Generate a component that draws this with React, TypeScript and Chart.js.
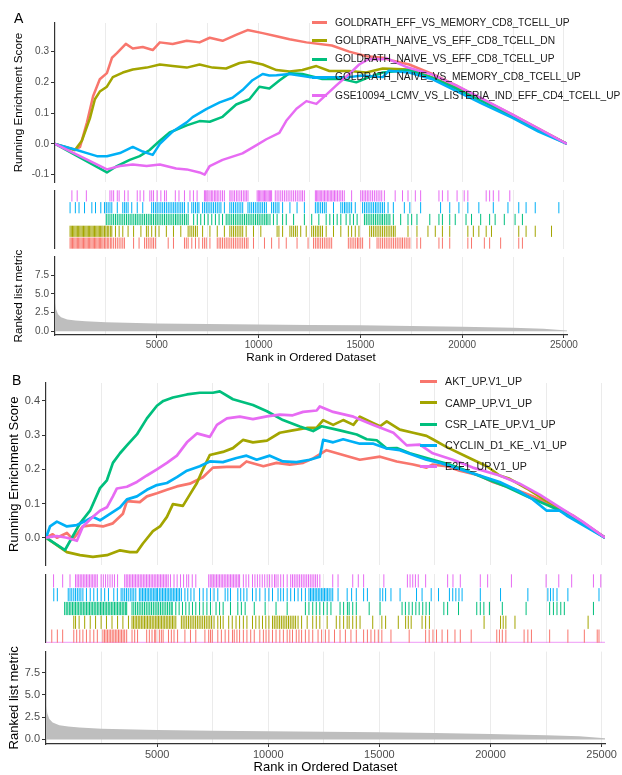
import React, { useEffect, useRef } from "react";
import { Chart, registerables } from "chart.js";

Chart.register(...registerables);

const FONT = "'Liberation Sans', Arial, Helvetica, sans-serif";

// ---------------- data ----------------
const N_GENES = 25150;
const X_GRID = [2500, 5000, 7500, 10000, 12500, 15000, 17500, 20000, 22500, 25000];
const X_LABEL_STEP = 5000;
const COLORS = ["#F8766D", "#A3A500", "#00BF7D", "#00B0F6", "#E76BF3"];

const NAMES_A = [
  "GOLDRATH_EFF_VS_MEMORY_CD8_TCELL_UP",
  "GOLDRATH_NAIVE_VS_EFF_CD8_TCELL_DN",
  "GOLDRATH_NAIVE_VS_EFF_CD8_TCELL_UP",
  "GOLDRATH_NAIVE_VS_MEMORY_CD8_TCELL_UP",
  "GSE10094_LCMV_VS_LISTERIA_IND_EFF_CD4_TCELL_UP",
];
const NAMES_B = ["AKT_UP.V1_UP", "CAMP_UP.V1_UP", "CSR_LATE_UP.V1_UP", "CYCLIN_D1_KE_.V1_UP", "E2F1_UP.V1_UP"];

const ES_TICKS_A = [-0.1, 0, 0.1, 0.2, 0.3];
const ES_TICKS_B = [0, 0.1, 0.2, 0.3, 0.4];
const RANK_TICKS = [0, 2.5, 5, 7.5];

// ranked list metric (rank, value)
const RANK_X = [0, 60, 150, 300, 600, 1000, 1500, 2500, 5000, 7500, 10000, 12500, 15000, 17500, 20000, 22500, 24000, 25150];
const RANK_V = [3.8, 2.9, 2.3, 1.9, 1.6, 1.45, 1.35, 1.2, 1.05, 0.98, 0.92, 0.86, 0.8, 0.72, 0.62, 0.48, 0.36, 0.12];

// running enrichment score, panel A: [rank, ES]
const ES_A_EFF_MEM = [[0,0],[980,-0.02],[1230,-0.01],[1570,0.07],[1870,0.155],[2200,0.21],[2550,0.23],[2800,0.28],[3040,0.295],[3480,0.325],[3820,0.31],[4310,0.315],[4800,0.305],[5150,0.33],[5780,0.325],[6470,0.335],[7100,0.33],[7600,0.345],[8230,0.335],[8920,0.355],[9460,0.37],[10200,0.36],[10880,0.35],[11520,0.34],[12350,0.33],[13600,0.32],[14450,0.3],[15300,0.285],[16100,0.28],[16600,0.27],[17400,0.258],[18500,0.228],[19700,0.19],[21000,0.145],[22450,0.096],[23750,0.05],[25150,0]];
const ES_A_NAIVE_EFF_DN = [[0,0],[980,-0.02],[1320,0.01],[1715,0.083],[1960,0.145],[2200,0.17],[2550,0.186],[2840,0.217],[3330,0.232],[3820,0.242],[4500,0.248],[5150,0.258],[5780,0.253],[6470,0.248],[7100,0.258],[7740,0.248],[8400,0.245],[9070,0.263],[9550,0.268],[10200,0.258],[10880,0.24],[11520,0.235],[12150,0.24],[12840,0.253],[13480,0.237],[14450,0.237],[15290,0.232],[16100,0.245],[17400,0.242],[18500,0.217],[19700,0.183],[21000,0.14],[22450,0.092],[23750,0.047],[25150,0]];
const ES_A_NAIVE_EFF_UP = [[0,0],[2550,-0.093],[3040,-0.072],[3670,-0.052],[4160,-0.04],[4650,-0.02],[5150,0.01],[5630,0.037],[6470,0.06],[7100,0.074],[7600,0.072],[8230,0.088],[8900,0.128],[9550,0.145],[10040,0.186],[10530,0.18],[11020,0.206],[11520,0.23],[12150,0.227],[13130,0.211],[14110,0.211],[14800,0.2],[15430,0.217],[16100,0.232],[17400,0.24],[18500,0.215],[19700,0.18],[21000,0.138],[22450,0.09],[23750,0.045],[25150,0]];
const ES_A_NAIVE_MEM = [[0,0],[1070,-0.02],[1570,-0.03],[2060,-0.04],[2550,-0.04],[3190,-0.03],[3820,-0.01],[4310,-0.025],[4800,-0.036],[5150,0],[5780,0.04],[6470,0.07],[6760,0.087],[7450,0.114],[8090,0.135],[8720,0.15],[9210,0.175],[9700,0.207],[10200,0.227],[10530,0.222],[10880,0.223],[11520,0.227],[12500,0.217],[13480,0.217],[14450,0.217],[15100,0.222],[16100,0.217],[16400,0.238],[17400,0.232],[18500,0.211],[19700,0.172],[21000,0.13],[22450,0.085],[23750,0.04],[25150,0]];
const ES_A_GSE10094 = [[0,0],[2550,-0.083],[3190,-0.072],[3820,-0.067],[4500,-0.072],[5150,-0.067],[5950,-0.08],[6470,-0.083],[7100,-0.093],[7350,-0.1],[7600,-0.072],[8230,-0.052],[9210,-0.031],[9880,-0.005],[10380,0.015],[11020,0.036],[11360,0.075],[11860,0.114],[12350,0.139],[12840,0.13],[13330,0.16],[13820,0.19],[14450,0.227],[14940,0.258],[15430,0.276],[16100,0.275],[16270,0.279],[17250,0.25],[18500,0.226],[19700,0.19],[21000,0.146],[22450,0.096],[23750,0.05],[25150,0]];

// running enrichment score, panel B
const ES_B_AKT = [[0,0],[300,0.01],[490,0],[940,0.014],[1210,-0.005],[1660,0.033],[2110,0.037],[2560,0.033],[3010,0.042],[3460,0.07],[3640,0.107],[4220,0.104],[4540,0.121],[4990,0.13],[5440,0.14],[5890,0.15],[6470,0.158],[7060,0.177],[7510,0.205],[8140,0.207],[8720,0.207],[9020,0.223],[9780,0.209],[10370,0.219],[10970,0.214],[11570,0.219],[12020,0.232],[12620,0.256],[13370,0.242],[14120,0.228],[15030,0.237],[15780,0.223],[16520,0.214],[17120,0.205],[17400,0.214],[18030,0.209],[18610,0.196],[19510,0.182],[20100,0.163],[21000,0.144],[21900,0.121],[22800,0.093],[23700,0.065],[25150,0]];
const ES_B_CAMP = [[0,0],[940,-0.042],[1530,-0.051],[2110,-0.056],[2740,-0.051],[3330,-0.037],[3780,-0.042],[4090,-0.042],[4360,-0.017],[4810,0.019],[5130,0.033],[5440,0.061],[5710,0.098],[6160,0.093],[6470,0.126],[6790,0.16],[7060,0.2],[7370,0.242],[7960,0.251],[8410,0.262],[8860,0.286],[9310,0.279],[9940,0.284],[10520,0.307],[11100,0.314],[11730,0.321],[12180,0.322],[12470,0.344],[12920,0.33],[13370,0.344],[13830,0.33],[14120,0.354],[14730,0.335],[15030,0.326],[15330,0.34],[15920,0.316],[16520,0.307],[17120,0.298],[17400,0.288],[18030,0.265],[18930,0.237],[19830,0.209],[20410,0.182],[20860,0.172],[21630,0.144],[22530,0.107],[23420,0.075],[25150,0]];
const ES_B_CSR_LATE = [[0,0],[855,-0.036],[1530,0.042],[1980,0.079],[2430,0.145],[2740,0.168],[3010,0.219],[3330,0.247],[3640,0.27],[4090,0.302],[4540,0.349],[4990,0.386],[5280,0.4],[5710,0.41],[6340,0.419],[6920,0.424],[7510,0.424],[7820,0.428],[8410,0.405],[9310,0.388],[9940,0.37],[10660,0.344],[11420,0.325],[12020,0.312],[12400,0.326],[13220,0.314],[13980,0.302],[14430,0.288],[14880,0.285],[15330,0.261],[15780,0.262],[16370,0.247],[17400,0.228],[18160,0.214],[18930,0.196],[19830,0.172],[20720,0.149],[21630,0.121],[22660,0.093],[23420,0.07],[25150,0]];
const ES_B_CYCLIN_D1 = [[0,0],[180,0.033],[490,0.047],[940,0.033],[1390,0.037],[1840,0.051],[2110,0.061],[2430,0.051],[2880,0.07],[3330,0.089],[3640,0.112],[4090,0.121],[4540,0.14],[4990,0.154],[5440,0.16],[5890,0.177],[6340,0.196],[6920,0.209],[7370,0.223],[7960,0.221],[8570,0.233],[9020,0.24],[9480,0.228],[10070,0.24],[10660,0.223],[11270,0.221],[11870,0.228],[12320,0.237],[12470,0.286],[12920,0.279],[13370,0.288],[14120,0.275],[14730,0.275],[15330,0.261],[15920,0.256],[16520,0.242],[17120,0.228],[17710,0.219],[18610,0.2],[19510,0.182],[20410,0.163],[21310,0.135],[21900,0.112],[22530,0.079],[23110,0.079],[23420,0.065],[25150,0]];
const ES_B_E2F1 = [[0,0],[490,0.005],[940,0],[1390,-0.009],[1660,0.033],[2110,0.061],[2430,0.079],[2740,0.089],[3010,0.121],[3190,0.144],[3640,0.149],[4090,0.163],[4540,0.182],[4990,0.2],[5440,0.219],[5890,0.24],[6340,0.279],[6790,0.305],[7370,0.295],[7690,0.33],[8140,0.349],[8720,0.354],[9310,0.347],[9940,0.355],[10520,0.36],[11100,0.358],[11570,0.368],[12180,0.372],[12320,0.384],[12920,0.368],[13830,0.354],[14730,0.33],[15630,0.307],[16230,0.27],[16820,0.272],[17400,0.247],[18300,0.228],[19200,0.205],[20410,0.182],[21310,0.158],[22210,0.126],[23110,0.089],[24140,0.047],[25150,0]];

// gene-set hit positions (rank), panel A
const RUG_A_EFF_MEM = [740,800,860,920,980,1040,1100,1160,1220,1280,1340,1400,1460,1520,1580,1640,1700,1760,1820,1880,1940,2000,2060,2120,2180,2240,2300,2360,2430,2500,2570,2640,2720,2790,2880,2970,3060,3150,3240,3330,3410,3860,4130,4400,4490,4580,4670,4760,4840,4930,5560,5820,6360,6450,6540,6720,6900,7070,7250,7340,7430,7610,7970,8060,8140,8230,8320,8410,8500,8590,8680,8770,8860,8950,9040,9130,9220,9310,9400,9480,9750,10290,10640,11000,11360,11890,12430,12700,12790,12880,12960,13050,13140,13230,13320,13410,13500,13590,14410,14500,14590,14680,14770,14860,14930,15020,15110,15460,15820,15910,16000,16090,16180,16270,16360,16450,16540,16630,16720,16810,16900,16990,17070,17160,17250,17340,17430,17780,17960,18860,19030,19390,20280,20460,21090,21350,21890,22780,22960];
const RUG_A_NAIVE_EFF_DN = [740,800,860,920,980,1040,1100,1160,1220,1280,1340,1400,1460,1520,1580,1640,1700,1760,1820,1880,1940,2000,2060,2120,2180,2240,2300,2360,2430,2500,2570,2640,2720,2790,2970,3150,3330,3590,3860,4220,4490,4580,4750,4930,5110,5470,5820,6180,6540,6630,6720,6810,6900,6990,7250,7610,7970,8320,8590,8680,8770,8860,8950,9040,9130,9220,9390,9750,10110,10910,11000,11180,11540,11630,11720,11810,11900,12070,12340,12610,12700,12790,12880,12960,13050,13140,13320,13680,14040,14410,14570,14750,14930,15460,15550,15640,15730,15820,15910,16000,16090,16180,16270,16360,16450,16540,16630,16710,17340,17780,18320,18680,19030,19390,20280,20550,20820,21180,21440,22780,23140,23590,24390];
const RUG_A_NAIVE_EFF_UP = [2520,2610,2700,2790,2880,2970,3060,3150,3240,3330,3420,3510,3600,3690,3780,3870,3960,4040,4130,4220,4310,4400,4490,4580,4670,4750,4840,4930,5020,5110,5200,5290,5380,5470,5560,5650,5740,5830,5920,6000,6090,6180,6270,6360,6450,6540,6810,6990,7160,7340,7520,7700,7880,8060,8230,8410,8500,8590,8680,8770,8860,8950,9040,9130,9220,9310,9400,9490,9580,9670,9760,9850,9940,10030,10120,10210,10300,10380,10460,10560,10730,10910,11180,11360,11720,12250,12610,12960,13320,13500,13680,13860,14040,14300,14490,14660,14840,15200,15290,15380,15470,15560,15650,15740,15830,15920,16010,16090,16180,16270,16360,16450,16620,16980,17340,17520,17780,18410,18860,19030,19390,19660,20190,20460,20910,21350,21620,22070,22600,22960];
const RUG_A_NAIVE_MEM = [740,1000,1180,1450,1810,1990,2250,2430,2520,2610,2700,2790,3060,3330,3420,3500,3590,3770,4040,4310,4750,4840,4930,5020,5110,5200,5290,5380,5470,5560,5650,5740,5830,5910,6000,6090,6180,6270,6360,6540,6720,6810,6900,6990,7070,7250,7340,7430,7520,7610,7700,7790,7880,7970,8060,8150,8320,8590,8680,8770,8860,8950,9040,9130,9220,9480,9570,9660,9750,9840,9930,10020,10110,10200,10290,10380,10640,10730,10820,10910,11000,11180,11540,11890,12250,12790,12880,12960,13050,13140,13230,13320,13680,14040,14130,14220,14300,14390,14480,14570,14750,15110,15200,15290,15380,15470,15560,15650,15740,15820,15910,16000,16090,16180,16360,16620,17160,17430,17960,18940,19390,19840,20280,20820,21530,22250,22780,23140,23590,24750];
const RUG_A_GSE10094 = [830,1090,1540,2700,2790,2880,3060,3150,3420,3590,4040,4180,4360,4660,4750,4840,5020,5200,5380,5470,5910,6090,6360,6630,6800,6980,7340,7400,7460,7520,7610,7680,7750,7830,7900,7970,8050,8140,8230,8320,8590,8650,8740,8820,8910,8990,9080,9160,9250,9330,9400,9480,9930,9990,10050,10110,10170,10230,10290,10350,10410,10470,10530,10590,10640,10820,10910,11000,11090,11180,11270,11360,11450,11540,11630,11720,11810,11900,11990,12080,12160,12250,12790,12850,12910,12970,13030,13100,13170,13240,13310,13380,13450,13520,13590,13660,13730,13800,13880,13960,14040,14120,14210,14570,15020,15100,15180,15260,15340,15420,15510,15600,15690,15780,15870,15960,16050,16180,16710,17070,17340,17700,17960,18860,19030,19300,19750,20100,20280,21180,21350,21530,21800,22340];

// gene-set hit positions (rank), panel B
const RUG_B_AKT = [260,510,750,1250,1380,1520,1660,1820,1980,2150,2310,2560,2630,2700,2770,2840,2910,2980,3050,3120,3190,3260,3330,3400,3470,3540,3630,3870,3990,4120,4530,4650,4770,4890,4940,5100,5190,5270,5510,5640,5760,5920,6250,6500,6740,7150,7320,7400,7480,7730,7890,8060,8220,8390,8470,8590,8710,8880,9040,9210,9370,9620,9780,9900,10030,10190,10350,10520,10680,10850,10970,11090,11260,11380,11500,11670,11830,12000,12240,12400,12570,12730,12980,13230,13470,13720,13960,14290,14460,14620,14790,14950,15110,15520,16340,17080,17240,17410,17570,17820,18070,18400,18640,19130,20280,20400,20530,20690,21510,21680,21840,22660,23480,24220,24800,24880];
const RUG_B_CAMP = [1250,1330,1490,1740,1990,2230,2480,2720,2970,3220,3460,3710,3870,3940,4010,4080,4150,4220,4290,4360,4430,4500,4570,4640,4710,4780,4850,4920,4990,5060,5130,5200,5270,5340,5410,5480,5550,5620,5690,5760,5840,6090,6170,6250,6330,6410,6490,6570,6650,6730,6810,6890,6970,7050,7130,7210,7290,7370,7450,7560,7730,7850,7970,8220,8380,8550,8710,8880,9040,9290,9440,9590,9740,9890,10030,10190,10270,10350,10430,10510,10590,10670,10750,10830,10910,10990,11070,11150,11230,11340,11500,11750,12000,12160,12320,12650,13060,13220,13390,13550,13640,13800,13960,14130,14700,15110,15280,15850,16180,16300,16430,16920,17080,17250,19710,20450,20570,20690,21100,24390];
const RUG_B_CSR_LATE = [840,910,980,1050,1120,1190,1260,1330,1400,1470,1540,1610,1680,1750,1820,1890,1960,2030,2100,2170,2240,2310,2380,2450,2520,2590,2660,2730,2800,2870,2940,3010,3080,3150,3220,3290,3360,3430,3500,3570,3630,3870,3950,4030,4110,4190,4270,4350,4430,4510,4590,4670,4750,4830,4910,4990,5070,5150,5230,5310,5390,5470,5550,5630,5680,5840,5990,6140,6290,6440,6590,6740,6910,7070,7240,7400,7650,7810,7970,8300,8630,8790,8960,9370,9860,10350,10850,11670,11830,12000,12160,12320,12490,12650,12820,13230,13390,13560,13640,13800,13960,14540,15030,16020,16170,16330,16480,16640,16790,16950,17100,17250,17900,18070,18560,19380,19540,19700,19950,20530,21600,22660,22830,22990,23160,23320,24630];
const RUG_B_CYCLIN_D1 = [350,510,1000,1080,1160,1250,1330,1410,1490,1570,1660,1820,1990,2150,2310,2480,2640,2810,3050,3210,3380,3460,3540,3620,3700,3790,3870,3950,4040,4200,4270,4340,4410,4480,4550,4620,4690,4760,4830,4900,4960,5020,5100,5170,5240,5310,5380,5450,5520,5590,5660,5730,5800,5870,5940,6010,6090,6250,6380,6520,6660,6910,7070,7240,7400,7560,7730,8060,8180,8300,8630,8760,8900,9040,9290,9450,9620,9860,10030,10190,10440,10560,10680,10850,11010,11180,11340,11500,11670,11830,11900,11970,12040,12110,12180,12250,12320,12390,12460,12530,12600,12670,12740,12820,12900,13140,13550,13750,13960,14290,14460,15030,15150,15280,15520,15930,16670,16920,17330,17660,18150,18300,18440,18580,18720,19540,20450,21680,22580,22700,22820,22990,23480,24880];
const RUG_B_E2F1 = [340,750,1080,1330,1400,1470,1540,1610,1680,1750,1820,1890,1960,2030,2100,2170,2240,2310,2480,2580,2680,2780,2880,2980,3080,3220,3540,3610,3680,3750,3820,3890,3960,4030,4100,4170,4240,4310,4380,4450,4520,4590,4660,4730,4800,4870,4940,5010,5080,5150,5220,5290,5360,5430,5500,5600,5760,5900,6050,6190,6330,6420,6580,6740,7320,7390,7460,7530,7600,7670,7740,7810,7880,7950,8020,8090,8160,8230,8300,8370,8440,8510,8580,8650,8710,8880,9000,9120,9290,9400,9510,9620,9730,9840,9950,10060,10170,10280,10350,10440,10560,10680,10850,11010,11090,11170,11250,11330,11410,11490,11570,11650,11730,11810,11890,11970,12050,12130,12210,12320,12900,13140,13800,14050,14290,15200,16260,16380,16500,16620,16750,17080,18070,18310,18640,19540,19870,20940,22500,23070,23650,24630,24960];

const ES_A = [ES_A_EFF_MEM, ES_A_NAIVE_EFF_DN, ES_A_NAIVE_EFF_UP, ES_A_NAIVE_MEM, ES_A_GSE10094];
const ES_B = [ES_B_AKT, ES_B_CAMP, ES_B_CSR_LATE, ES_B_CYCLIN_D1, ES_B_E2F1];
const RUG_A = [RUG_A_EFF_MEM, RUG_A_NAIVE_EFF_DN, RUG_A_NAIVE_EFF_UP, RUG_A_NAIVE_MEM, RUG_A_GSE10094];
const RUG_B = [RUG_B_AKT, RUG_B_CAMP, RUG_B_CSR_LATE, RUG_B_CYCLIN_D1, RUG_B_E2F1];

// ---------------- layout ----------------
type Layout = {
  label: string; labelX: number; labelY: number;
  left: number; right: number;
  esTop: number; esBottom: number; rugBottom: number; rankBottom: number; canvasBottom: number;
  esMin: number; esMax: number; esTicks: number[]; rankMin: number; rankMax: number;
  tickFont: number; titleFont: number; titlePad: number; lineWidth: number; rugRadius: number;
  names: string[]; es: number[][][]; rugs: number[][]; rugBaseline: boolean;
  legX1: number; legX2: number; legText: number; legY0: number; legDy: number; legFont: number;
};

const LAYOUT_A: Layout = {
  label: "A", labelX: 14, labelY: 11,
  left: 55, right: 567,
  esTop: 23, esBottom: 190, rugBottom: 249, rankBottom: 335, canvasBottom: 365,
  esMin: -0.124, esMax: 0.393, esTicks: ES_TICKS_A, rankMin: -0.484, rankMax: 9.92,
  tickFont: 10, titleFont: 11.7, titlePad: 12, lineWidth: 2.5, rugRadius: 5.6,
  names: NAMES_A, es: ES_A, rugs: RUG_A, rugBaseline: false,
  legX1: 312, legX2: 327, legText: 335, legY0: 22.7, legDy: 18.25, legFont: 10.2,
};
const LAYOUT_B: Layout = {
  label: "B", labelX: 12, labelY: 373,
  left: 46, right: 605,
  esTop: 383, esBottom: 574, rugBottom: 643, rankBottom: 744, canvasBottom: 775,
  esMin: -0.081, esMax: 0.4525, esTicks: ES_TICKS_B, rankMin: -0.514, rankMax: 9.86,
  tickFont: 11, titleFont: 13, titlePad: 7, lineWidth: 2.7, rugRadius: 6.6,
  names: NAMES_B, es: ES_B, rugs: RUG_B, rugBaseline: true,
  legX1: 420, legX2: 437, legText: 445, legY0: 381.7, legDy: 21.2, legFont: 10.7,
};

const W = 622;

function xScale(L: Layout, withAxis: boolean): any {
  return {
    type: "linear",
    min: 0,
    max: N_GENES,
    afterBuildTicks: (s: any) => { s.ticks = X_GRID.map((v) => ({ value: v })); },
    grid: {
      color: "#EBEBEB",
      lineWidth: 1,
      drawTicks: withAxis,
      tickLength: 3,
      tickWidth: 1,
      tickColor: (c: any) => (c.tick && c.tick.value % X_LABEL_STEP === 0 ? "#333333" : "rgba(0,0,0,0)"),
    },
    border: { display: withAxis, color: "#333333", width: 1.2 },
    ticks: {
      display: withAxis,
      autoSkip: false,
      maxRotation: 0,
      color: "#4D4D4D",
      padding: 1,
      font: { family: FONT, size: L.tickFont },
      callback: (v: any) => (Number(v) % X_LABEL_STEP === 0 ? String(v) : ""),
    },
    title: {
      display: withAxis,
      text: "Rank in Ordered Dataset",
      color: "#000000",
      font: { family: FONT, size: L.titleFont },
      padding: { top: 0, bottom: 0 },
    },
    afterFit: (s: any) => { s.height = withAxis ? L.canvasBottom - L.rankBottom : 0; },
  };
}

function yScale(L: Layout, min: number, max: number, ticks: number[] | null, title: string | null): any {
  return {
    type: "linear",
    min,
    max,
    afterBuildTicks: (s: any) => { if (ticks) s.ticks = ticks.map((v) => ({ value: v })); },
    grid: { display: !!ticks, drawOnChartArea: false, drawTicks: true, tickLength: 4, tickWidth: 1, tickColor: "#333333" },
    border: { display: true, color: "#333333", width: 1.2 },
    ticks: {
      display: !!ticks,
      color: "#4D4D4D",
      padding: 2,
      font: { family: FONT, size: L.tickFont },
      callback: (v: any) => Number(v).toFixed(1),
    },
    title: {
      display: !!title,
      text: title || "",
      color: "#000000",
      font: { family: FONT, size: L.titleFont },
      padding: { top: L.titlePad, bottom: 0 },
    },
    afterFit: (s: any) => { s.width = L.left; },
  };
}

function baseOptions(L: Layout, padTop: number): any {
  return {
    responsive: false,
    animation: false,
    devicePixelRatio: 1,
    events: [],
    layout: { autoPadding: false, padding: { top: padTop, right: W - L.right, bottom: 0, left: 0 } },
    plugins: { legend: { display: false }, tooltip: { enabled: false }, title: { display: false } },
  };
}

function esConfig(L: Layout): any {
  return {
    type: "line",
    data: {
      datasets: L.es.map((pts, i) => ({
        label: L.names[i],
        data: pts.map(([x, y]) => ({ x, y })),
        borderColor: COLORS[i],
        borderWidth: L.lineWidth,
        borderJoinStyle: "round",
        pointRadius: 0,
        fill: false,
        tension: 0,
        order: -i,
      })),
    },
    options: {
      ...baseOptions(L, 10),
      scales: { x: xScale(L, false), y: yScale(L, L.esMin, L.esMax, L.esTicks, "Running Enrichment Score") },
    },
  };
}

function rugConfig(L: Layout): any {
  const rows = [0.5, 1.5, 2.5, 3.5, 4.5];
  const datasets: any[] = L.rugs.map((hits, i) => ({
    label: L.names[i],
    data: hits.map((x) => ({ x, y: rows[i] })),
    showLine: false,
    pointStyle: "line",
    pointRotation: 90,
    pointRadius: L.rugRadius,
    pointBorderWidth: 1,
    pointBorderColor: COLORS[i],
    pointBackgroundColor: COLORS[i],
    borderColor: COLORS[i],
  }));
  if (L.rugBaseline) {
    datasets.push({
      label: "baseline",
      data: [{ x: 0, y: 0.05 }, { x: N_GENES, y: 0.05 }],
      showLine: true,
      borderColor: "rgba(231,107,243,0.55)",
      borderWidth: 1.2,
      pointRadius: 0,
    });
  }
  return {
    type: "scatter",
    data: { datasets },
    options: {
      ...baseOptions(L, 0),
      scales: { x: xScale(L, false), y: yScale(L, 0, 5, null, null) },
    },
  };
}

function rankConfig(L: Layout): any {
  return {
    type: "line",
    data: {
      datasets: [
        {
          label: "metric",
          data: RANK_X.map((x, i) => ({ x, y: RANK_V[i] })),
          borderWidth: 0,
          borderColor: "#BEBEBE",
          backgroundColor: "#BEBEBE",
          pointRadius: 0,
          fill: "origin",
          tension: 0,
        },
      ],
    },
    options: {
      ...baseOptions(L, 0),
      scales: { x: xScale(L, true), y: yScale(L, L.rankMin, L.rankMax, RANK_TICKS, "Ranked list metric") },
    },
  };
}

function ChartCanvas({ top, height, make }: { top: number; height: number; make: () => any }) {
  const ref = useRef<HTMLCanvasElement | null>(null);
  useEffect(() => {
    if (!ref.current) return;
    const chart = new Chart(ref.current, make());
    return () => chart.destroy();
  }, []);
  return (
    <canvas
      ref={ref}
      width={W}
      height={height}
      style={{ position: "absolute", left: 0, top, width: W, height, display: "block" }}
    />
  );
}

function Legend({ L }: { L: Layout }) {
  return (
    <>
      {L.names.map((n, i) => {
        const y = L.legY0 + i * L.legDy;
        return (
          <React.Fragment key={n}>
            <div
              style={{
                position: "absolute",
                left: L.legX1,
                top: y - 1.5,
                width: L.legX2 - L.legX1,
                height: 3,
                background: COLORS[i],
              }}
            />
            <div
              style={{
                position: "absolute",
                left: L.legText,
                top: y - L.legFont / 2,
                fontFamily: FONT,
                fontSize: L.legFont,
                lineHeight: `${L.legFont}px`,
                color: "#1A1A1A",
                whiteSpace: "nowrap",
              }}
            >
              {n}
            </div>
          </React.Fragment>
        );
      })}
    </>
  );
}

function Panel({ L }: { L: Layout }) {
  const esCanvasTop = L.esTop - 10;
  return (
    <>
      <ChartCanvas top={esCanvasTop} height={L.esBottom - esCanvasTop} make={() => esConfig(L)} />
      <ChartCanvas top={L.esBottom} height={L.rugBottom - L.esBottom} make={() => rugConfig(L)} />
      <ChartCanvas top={L.rugBottom} height={L.canvasBottom - L.rugBottom} make={() => rankConfig(L)} />
      <Legend L={L} />
      <div
        style={{
          position: "absolute",
          left: L.labelX,
          top: L.labelY,
          fontFamily: FONT,
          fontSize: 14,
          lineHeight: "14px",
          color: "#000",
        }}
      >
        {L.label}
      </div>
    </>
  );
}

export default function App() {
  return (
    <div style={{ position: "absolute", left: 0, top: 0, width: W, height: 775, background: "#FFFFFF", overflow: "hidden" }}>
      <Panel L={LAYOUT_A} />
      <Panel L={LAYOUT_B} />
    </div>
  );
}
